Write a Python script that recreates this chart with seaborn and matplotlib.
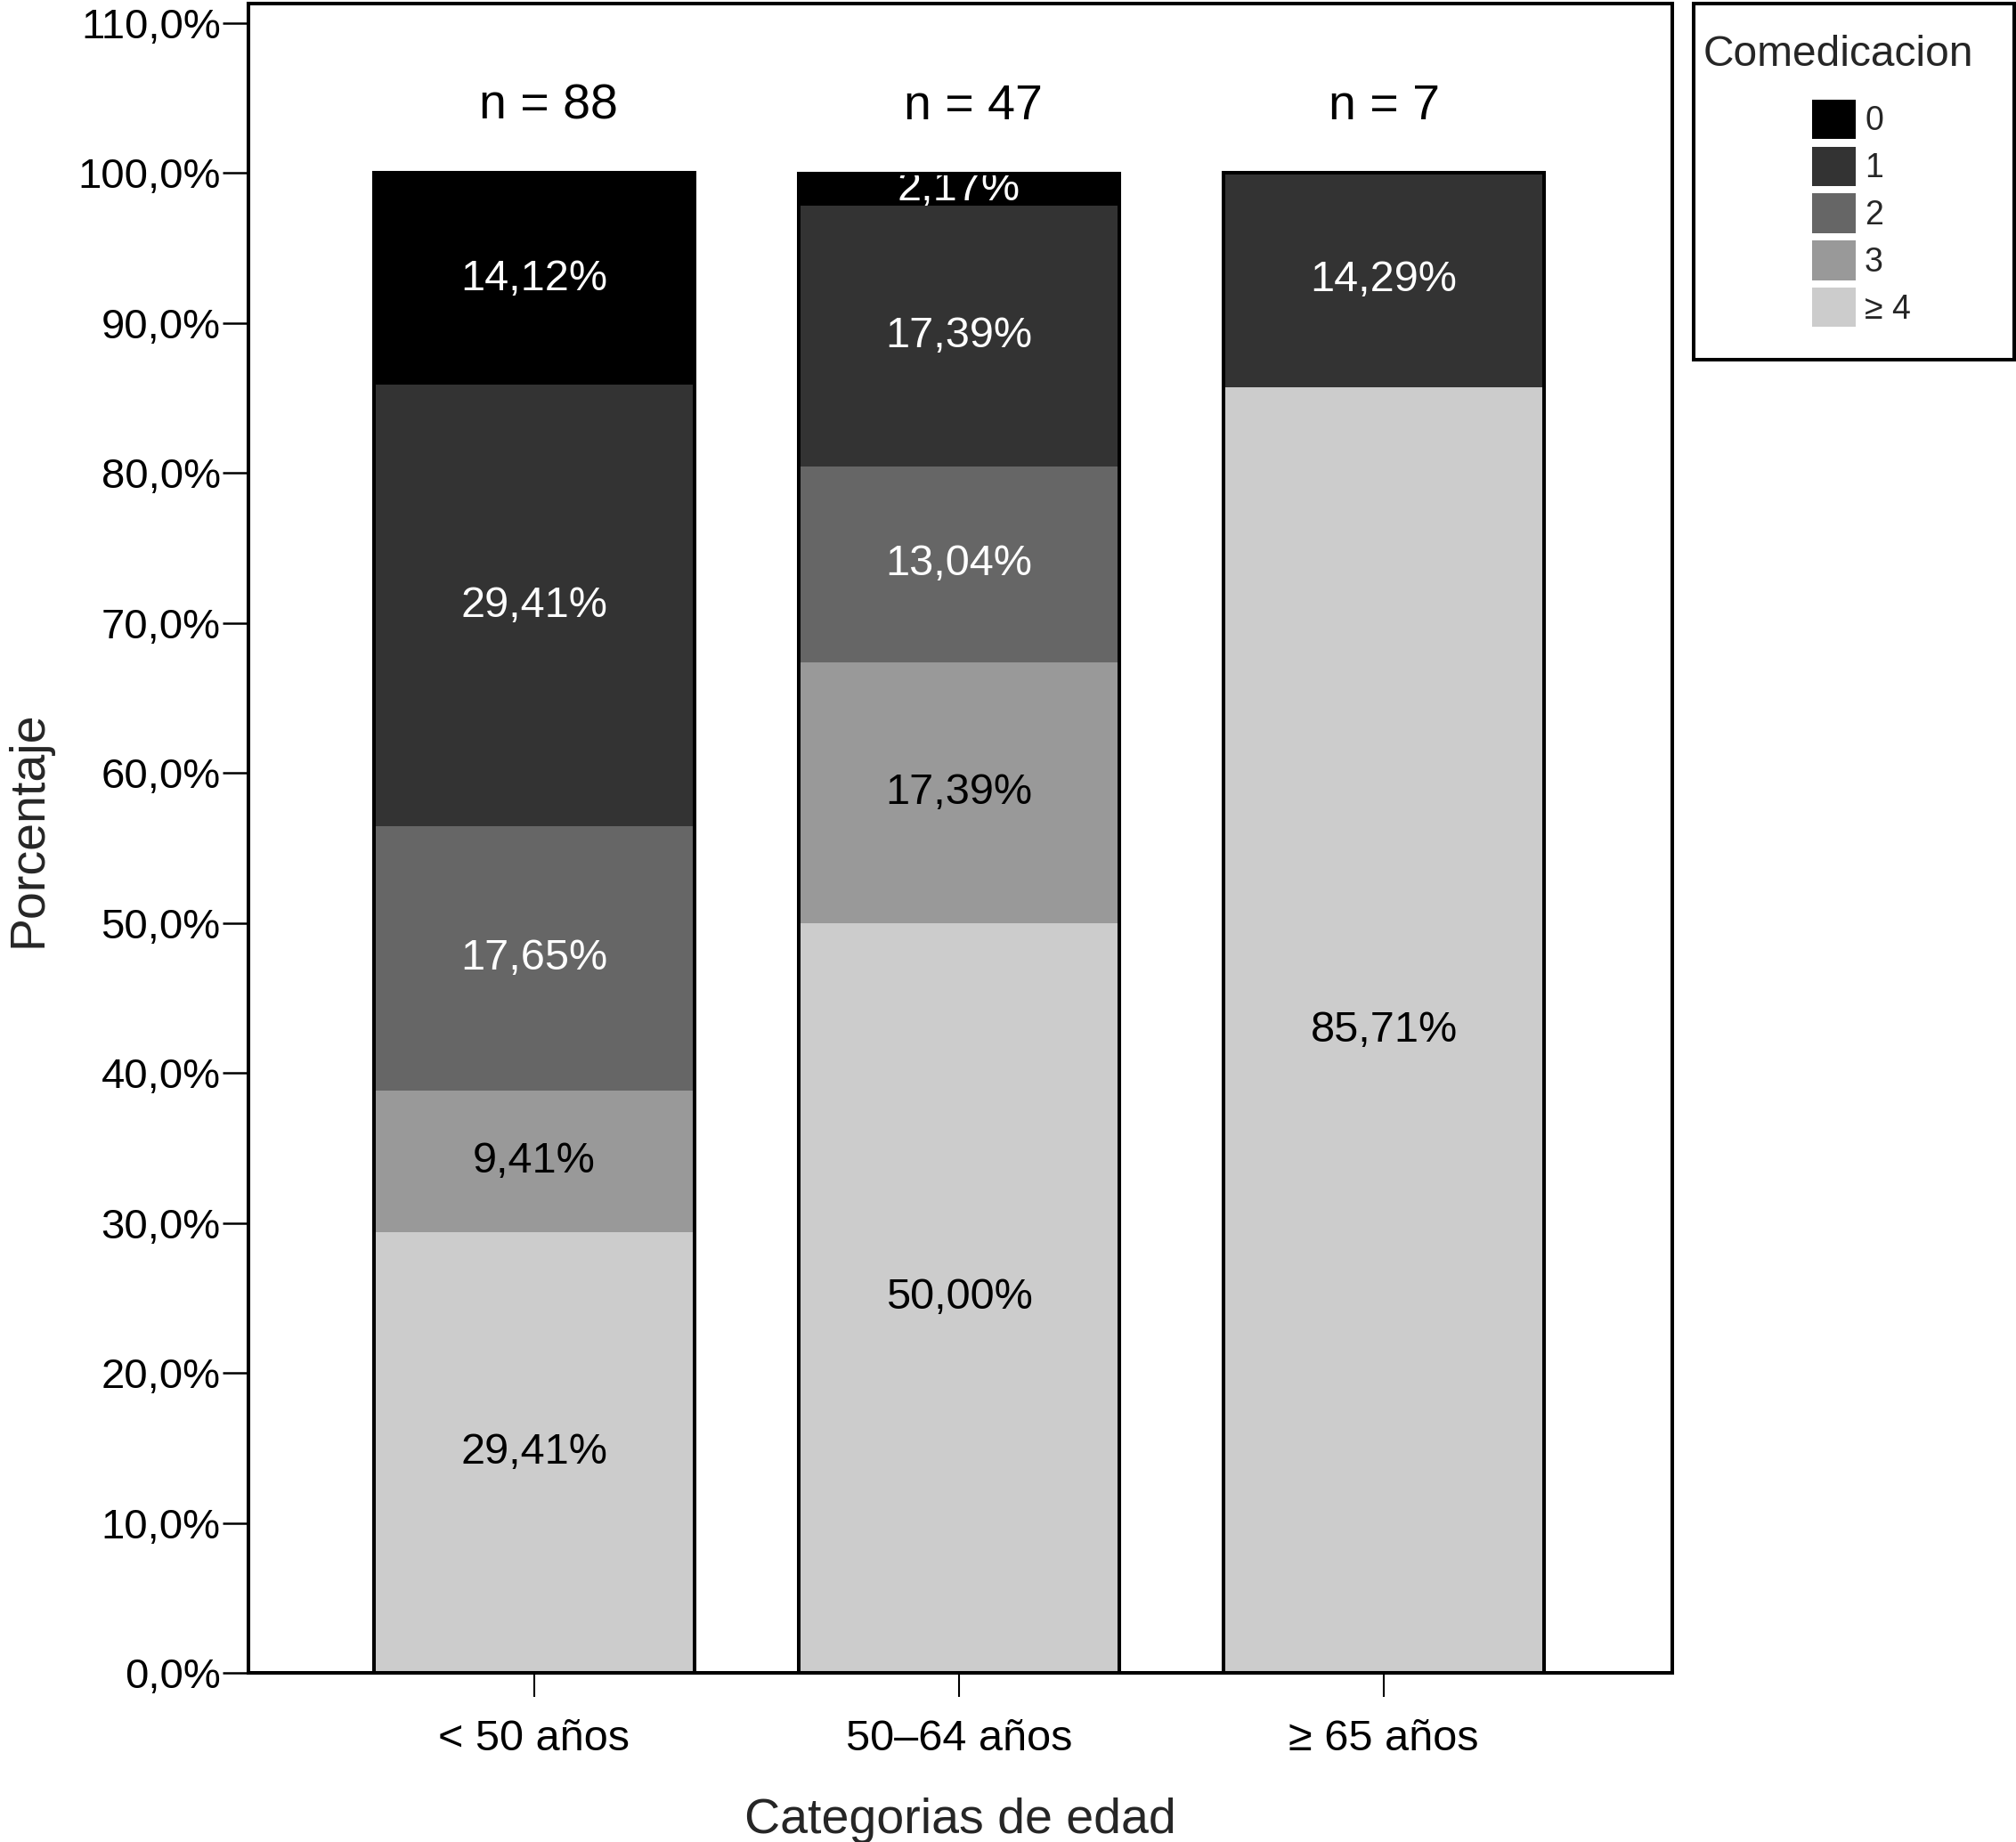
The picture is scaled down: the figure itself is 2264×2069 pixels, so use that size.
import numpy as np
import pandas as pd
import matplotlib
matplotlib.use("Agg")
import matplotlib.pyplot as plt
import matplotlib.patches as mpatches
import seaborn as sns

# ── Data ──────────────────────────────────────────────────────────────────────
edades       = ["< 50 años", "50–64 años", "≥ 65 años"]
n_por_edad   = [88, 47, 7]
comedicacion = ["0", "1", "2", "3", "≥ 4"]
pct_0 = [14.12, 2.17, 0.0]
pct_1 = [29.41, 17.39, 14.29]
pct_2 = [17.65, 13.04, 0.0]
pct_3 = [9.41, 17.39, 0.0]
pct_4 = [29.41, 50.00, 85.71]
yticks = list(range(0, 111, 10))

GREYS = ["#000000", "#333333", "#666666", "#999999", "#cccccc"]
TXT_COL = ["white", "white", "white", "black", "black"]

sns.set_style("white")
plt.rcParams["font.family"] = ["Liberation Sans", "DejaVu Sans"]

# long table, stacked from "≥ 4" at the bottom up to "0" at the top
series = [pct_0, pct_1, pct_2, pct_3, pct_4]
df = pd.DataFrame({
    "edad": np.repeat(edades, len(comedicacion)),
    "cat": comedicacion * len(edades),
    "pct": [series[k][i] for i in range(len(edades)) for k in range(len(comedicacion))],
})
df["orden"] = df["cat"].map({c: k for k, c in enumerate(comedicacion)})
df = df.sort_values(["edad", "orden"], ascending=[True, False])
df["top"] = df.groupby("edad")["pct"].cumsum()
df["bottom"] = df["top"] - df["pct"]

fig = plt.figure(figsize=(22.64, 20.69), dpi=100)
ax = fig.add_axes([0.1232, 0.0918, 0.8295 - 0.1232, 0.998 - 0.0918])

W = 0.755
for k, cat in enumerate(comedicacion):
    sub = df[df["cat"] == cat]
    # cumulative bars, each one drawn over the previous (taller) one
    sns.barplot(data=sub, x="edad", y="top", order=edades, color=GREYS[k],
                saturation=1, width=W, errorbar=None, linewidth=0,
                zorder=2 + k, ax=ax)
    for _, r in sub.iterrows():
        if r["pct"] <= 0:
            continue
        xi = edades.index(r["edad"])
        ax.text(xi, r["bottom"] + r["pct"] / 2, f"{r['pct']:.2f}%".replace(".", ","),
                ha="center", va="center", fontsize=35, color=TXT_COL[k],
                zorder=2.5 + k)

# outline of each full bar
tot = df.groupby("edad", as_index=False)["pct"].sum()
sns.barplot(data=tot, x="edad", y="pct", order=edades, fill=False,
            edgecolor="black", linewidth=2.9, width=W, errorbar=None,
            zorder=20, ax=ax)

for i, n in enumerate(n_por_edad):
    ax.text(i - 0.13, 104.45, f"n = {n}", ha="left", va="center",
            fontsize=40, color="black")

ax.set_xlim(-0.673, 2.679)
ax.set_ylim(0, 111.3)
ax.set_yticks(yticks)
ax.set_yticklabels([f"{t:.1f}%".replace(".", ",") for t in yticks])

for sp in ax.spines.values():
    sp.set_visible(True)
    sp.set_linewidth(2.9)
    sp.set_color("black")

ax.tick_params(axis="y", direction="out", length=21, width=1.8, pad=1.5,
               labelsize=34, left=True, colors="black")
ax.tick_params(axis="x", direction="out", length=19.5, width=1.5, pad=18,
               labelsize=35, bottom=True, colors="black")

ax.set_xlabel("Categorias de edad", fontsize=40, labelpad=31)
ax.set_ylabel("Porcentaje", fontsize=40)
ax.yaxis.set_label_coords(-0.138, 0.5056)

# legend
handles = [mpatches.Patch(facecolor=GREYS[k], edgecolor="none", label=c)
           for k, c in enumerate(comedicacion)]
fig.legend(handles=handles, loc="upper left",
           bbox_to_anchor=(2016 / 2264, 1 - 93 / 2069),
           bbox_transform=fig.transFigure, frameon=False, borderpad=0,
           fontsize=27, handlelength=1.31, handleheight=1.45,
           labelspacing=0.22, handletextpad=0.27)
fig.text(1913 / 2264, 1 - 62 / 2069, "Comedicacion", fontsize=34.5,
         ha="left", va="center")
fig.add_artist(mpatches.Rectangle((1902 / 2264, 1 - 404 / 2069), 360 / 2264, 400 / 2069,
                                  transform=fig.transFigure, fill=False,
                                  edgecolor="black", linewidth=2.9))

fig.savefig("out.png", dpi=100, facecolor="white")
